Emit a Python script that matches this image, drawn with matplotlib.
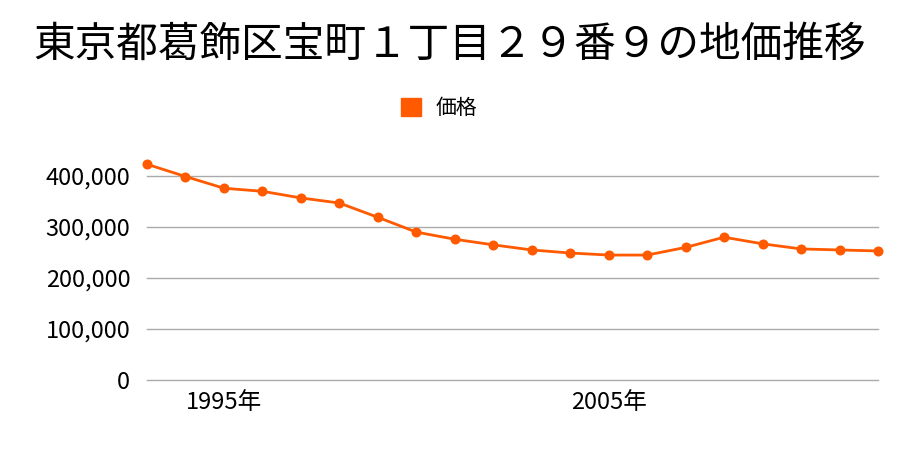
import matplotlib
matplotlib.use('Agg')
import matplotlib.pyplot as plt
from matplotlib.ticker import FuncFormatter

plt.rcParams['font.family'] = ['Noto Sans CJK JP', 'DejaVu Sans']

years = list(range(1993, 2013))
prices = [423000, 399000, 376000, 370000, 357000, 347000, 319000, 290000,
          276000, 265000, 255000, 249000, 245000, 245000, 260000, 280000,
          267000, 257000, 255000, 253000]
xticks = [1995, 2005]
xtick_labels = ['1995年', '2005年']
yticks = [0, 100000, 200000, 300000, 400000]

fig = plt.figure(figsize=(9, 4.5), dpi=100)
ax = fig.add_axes([147 / 900, 1 - 380 / 450, (878 - 147) / 900, 229.5 / 450])

ax.plot(years, prices, color='#ff5a00', linewidth=2, marker='o',
        markersize=6.2, clip_on=False, label='価格', zorder=3)

ax.set_xlim(1993, 2012)
ax.set_ylim(0, 450000)
ax.set_yticks(yticks)
ax.yaxis.set_major_formatter(FuncFormatter(lambda v, p: f'{int(v):,}'))
ax.set_xticks(xticks)
ax.set_xticklabels(xtick_labels)
ax.grid(axis='y', color='#aaaaaa', linewidth=1)
for gl in ax.get_ygridlines():
    gl.set_clip_on(False)
ax.set_axisbelow(True)
for s in ax.spines.values():
    s.set_visible(False)
ax.tick_params(axis='both', length=0, labelsize=17)
ax.tick_params(axis='y', pad=12)
ax.tick_params(axis='x', pad=8)

fig.suptitle('東京都葛飾区宝町１丁目２９番９の地価推移', y=1 - 45 / 450,
             va='center', fontsize=30)

# legend: orange square + label
fig.legend(loc='center', bbox_to_anchor=(0.488, 1 - 108 / 450),
           frameon=False, fontsize=15, handlelength=1.0, handleheight=1.0,
           handles=[plt.Rectangle((0, 0), 1, 1, color='#ff5a00')],
           labels=['価格'], handletextpad=0.7)

fig.savefig('out.png', dpi=100)
